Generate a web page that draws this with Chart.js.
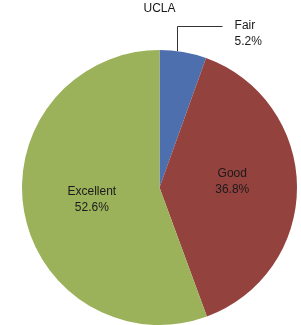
<!DOCTYPE html>
<html lang="en">
<head>
    <meta charset="UTF-8">
    <title>UCLA</title>
    <script src="https://cdn.jsdelivr.net/npm/chart.js"></script>
    <style>
        body {
            margin: 0;
            background: #ffffff;
        }
        #chart {
            display: block;
        }
    </style>
</head>
<body>
    <canvas id="chart" width="301" height="325"></canvas>

    <script>
        // data
        const categories = ['Fair', 'Good', 'Excellent'];
        const percents = [5.2, 36.8, 52.6];
        const sliceColors = ['#4e6fae', '#94423e', '#9bb25a'];
        const chartTitle = 'UCLA';

        const FONT = '12px "Liberation Sans", Arial, sans-serif';

        // title + slice labels (Fair gets a leader line, like the original)
        const labelPlugin = {
            id: 'labels',
            afterDraw(chart) {
                const ctx = chart.ctx;
                const arcs = chart.getDatasetMeta(0).data;
                ctx.save();
                ctx.font = FONT;
                ctx.fillStyle = '#1a1a1a';
                ctx.textBaseline = 'middle';

                ctx.textAlign = 'center';
                ctx.fillText(chartTitle, arcs[0].x, 9);

                arcs.forEach((arc, i) => {
                    const txt = [categories[i], percents[i].toFixed(1) + '%'];
                    if (i === 0) {
                        // small slice: label outside with an elbow line
                        const a = arc.startAngle + (arc.endAngle - arc.startAngle) * 0.36;
                        const x0 = arc.x + arc.outerRadius * Math.cos(a);
                        const y0 = arc.y + arc.outerRadius * Math.sin(a);
                        const yTop = y0 - 25;
                        ctx.strokeStyle = '#333333';
                        ctx.lineWidth = 1;
                        ctx.beginPath();
                        ctx.moveTo(Math.round(x0) + 0.5, y0);
                        ctx.lineTo(Math.round(x0) + 0.5, Math.round(yTop) + 0.5);
                        ctx.lineTo(Math.round(x0) + 45.5, Math.round(yTop) + 0.5);
                        ctx.stroke();
                        ctx.textAlign = 'left';
                        ctx.fillText(txt[0], x0 + 58, yTop);
                        ctx.fillText(txt[1], x0 + 58, yTop + 16);
                    } else {
                        const p = arc.tooltipPosition();
                        const dx = i === 1 ? 4 : 0;
                        const dy = i === 1 ? -6 : 0;
                        ctx.textAlign = 'center';
                        ctx.fillText(txt[0], p.x + dx, p.y - 8 + dy);
                        ctx.fillText(txt[1], p.x + dx, p.y + 8 + dy);
                    }
                });
                ctx.restore();
            }
        };

        new Chart(document.getElementById('chart'), {
            type: 'pie',
            data: {
                labels: categories,
                datasets: [{
                    data: percents,
                    backgroundColor: sliceColors,
                    borderWidth: 0
                }]
            },
            options: {
                responsive: false,
                animation: false,
                layout: {
                    padding: { top: 50, bottom: 0, left: 22, right: 4 }
                },
                plugins: {
                    legend: { display: false },
                    tooltip: { enabled: false },
                    title: { display: false }
                }
            },
            plugins: [labelPlugin]
        });
    </script>
</body>
</html>
